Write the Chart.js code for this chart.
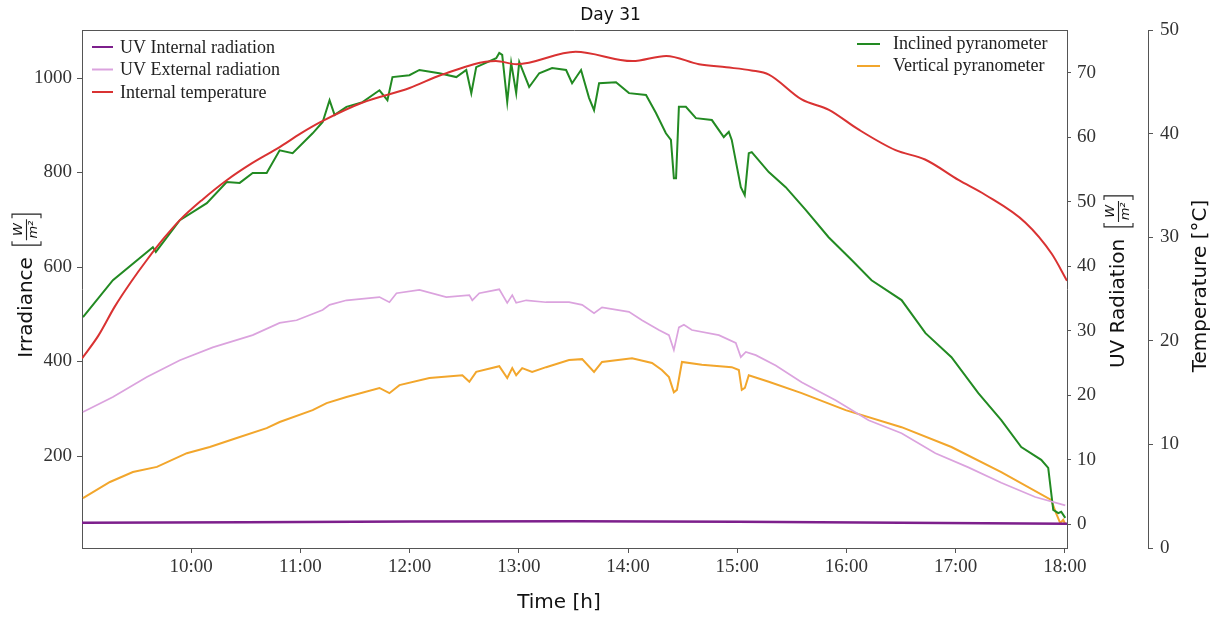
<!DOCTYPE html>
<html>
<head>
<meta charset="utf-8">
<title>Day 31</title>
<script src="https://cdn.jsdelivr.net/npm/chart.js@4.4.1/dist/chart.umd.min.js"></script>
<style>
  html, body { margin: 0; padding: 0; background: #fff; }
  #wrap { width: 1221px; height: 618px; }
</style>
</head>
<body>
<div id="wrap"><canvas id="chart" width="1221" height="618"></canvas></div>
<script>
// values, time in decimal hours
const timeTicks = [10, 11, 12, 13, 14, 15, 16, 17, 18];
const timeTickLabels = ['10:00', '11:00', '12:00', '13:00', '14:00', '15:00', '16:00', '17:00', '18:00'];
const irrTicks = [200, 400, 600, 800, 1000];
const uvTicks = [0, 10, 20, 30, 40, 50, 60, 70];
const tempTicks = [0, 10, 20, 30, 40, 50];

const seriesNames = ['UV Internal radiation', 'UV External radiation', 'Internal temperature',
  'Inclined pyranometer', 'Vertical pyranometer'];
const seriesColors = ['#7d1f8c', '#dba3de', '#d93232', '#228a22', '#f2a62c'];

const uvIntT = [9.0, 10.5, 12.0, 13.5, 15.0, 16.5, 18.02];
const uvIntV = [0.2, 0.3, 0.4, 0.45, 0.35, 0.2, 0.05];

const uvExtT = [9.009, 9.283, 9.594, 9.896, 10.197, 10.563, 10.81, 10.965, 11.203, 11.267, 11.422, 11.724,
  11.815, 11.88, 12.09, 12.336, 12.547, 12.574, 12.638, 12.821, 12.894, 12.94, 12.976, 13.068, 13.25, 13.46,
  13.58, 13.689, 13.762, 14.009, 14.128, 14.283, 14.375, 14.42, 14.466, 14.512, 14.585, 14.832, 14.987,
  15.033, 15.079, 15.17, 15.353, 15.59, 15.901, 16.203, 16.505, 16.815, 17.117, 17.418, 17.729, 18.004];
const uvExtV = [17.4, 19.7, 22.8, 25.4, 27.4, 29.3, 31.2, 31.6, 33.2, 34.0, 34.7, 35.2, 34.4, 35.8, 36.3,
  35.2, 35.5, 34.7, 35.8, 36.4, 34.3, 35.5, 34.3, 34.7, 34.4, 34.4, 34.0, 32.7, 33.6, 32.9, 31.6, 30.1, 29.3,
  27.0, 30.5, 30.9, 30.1, 29.3, 28.1, 25.9, 26.7, 26.2, 24.6, 22.0, 19.2, 16.1, 14.1, 11.0, 8.8, 6.4, 4.2, 2.9];

const tempT = [9.0, 9.15, 9.3, 9.45, 9.594, 9.75, 9.896, 10.1, 10.325, 10.55, 10.81, 11.0, 11.2, 11.57, 12.0,
  12.3, 12.79, 12.98, 13.52, 14.04, 14.35, 14.65, 14.9, 15.13, 15.29, 15.59, 15.84, 16.11, 16.45, 16.72,
  17.03, 17.27, 17.64, 17.88, 18.02];
const tempV = [18.3, 20.5, 23.3, 25.7, 27.8, 29.9, 31.65, 33.6, 35.5, 37.1, 38.7, 40.0, 41.2, 43.0, 44.4,
  45.7, 47.0, 46.7, 47.9, 47.0, 47.5, 46.7, 46.4, 46.1, 45.7, 43.3, 42.3, 40.4, 38.4, 37.5, 35.5, 34.1,
  31.4, 28.4, 25.8];

const inclinedT = [9.009, 9.283, 9.649, 9.676, 9.896, 10.143, 10.325, 10.444, 10.563, 10.691, 10.81, 10.929,
  11.112, 11.204, 11.267, 11.313, 11.422, 11.569, 11.724, 11.797, 11.843, 11.998, 12.09, 12.272, 12.428,
  12.519, 12.565, 12.61, 12.793, 12.821, 12.848, 12.894, 12.93, 12.976, 13.004, 13.095, 13.187, 13.305,
  13.433, 13.488, 13.57, 13.643, 13.689, 13.735, 13.89, 14.009, 14.165, 14.256, 14.347, 14.393, 14.42,
  14.44, 14.466, 14.53, 14.622, 14.768, 14.877, 14.923, 14.95, 15.033, 15.069, 15.106, 15.133, 15.289,
  15.444, 15.627, 15.837, 16.048, 16.23, 16.505, 16.724, 16.962, 17.208, 17.418, 17.601, 17.784, 17.848,
  17.894, 17.94, 17.967, 18.004];
const inclinedV = [494, 572, 642, 632, 699, 735, 780, 778, 799, 799, 847, 841, 883, 907, 953, 922, 939, 949,
  974, 953, 1002, 1006, 1017, 1010, 1002, 1017, 968, 1023, 1042, 1053, 1049, 949, 1032, 968, 1034, 981, 1010,
  1021, 1017, 989, 1017, 958, 932, 989, 991, 968, 964, 926, 883, 869, 788, 788, 939, 939, 915, 911, 875, 886,
  869, 769, 752, 841, 843, 801, 769, 721, 663, 615, 572, 530, 460, 409, 333, 276, 219, 192, 175, 86, 79, 82, 69];

const verticalT = [9.009, 9.256, 9.466, 9.686, 9.96, 10.17, 10.417, 10.691, 10.81, 11.112, 11.24, 11.422,
  11.724, 11.815, 11.907, 12.181, 12.483, 12.547, 12.61, 12.821, 12.894, 12.94, 12.976, 13.031, 13.122, 13.25,
  13.46, 13.58, 13.689, 13.762, 14.037, 14.22, 14.31, 14.375, 14.42, 14.448, 14.494, 14.676, 14.95, 15.015,
  15.042, 15.07, 15.106, 15.289, 15.59, 15.993, 16.505, 16.962, 17.418, 17.875, 17.92, 17.958, 17.985, 18.004];
const verticalV = [111, 145, 166, 177, 206, 219, 238, 259, 272, 297, 312, 325, 344, 333, 350, 365, 371, 357,
  378, 390, 365, 386, 371, 386, 378, 388, 403, 405, 378, 399, 407, 397, 382, 367, 335, 340, 399, 393, 388, 382,
  340, 344, 371, 357, 333, 297, 261, 219, 166, 107, 79, 58, 65, 56];

function pts(ts, vs) {
  return ts.map((t, i) => ({ x: t, y: vs[i] }));
}

const serif = '"Liberation Serif", "Times New Roman", serif';
const sans = '"DejaVu Sans", sans-serif';
const axisGrey = '#555';

function drawAxisTitle(ctx, cx, cy, label, withUnit) {
  ctx.save();
  ctx.translate(cx, cy);
  ctx.rotate(-Math.PI / 2);
  ctx.fillStyle = '#111';
  ctx.strokeStyle = '#222';
  ctx.font = '20px ' + sans;
  ctx.textBaseline = 'middle';
  ctx.textAlign = 'left';
  const w1 = ctx.measureText(label).width;
  const gap = withUnit ? 12 : 0;
  const fw = withUnit ? 31 : 0;
  const x = -(w1 + gap + fw) / 2;
  ctx.fillText(label, x, 1);
  if (withUnit) {
    const fx = x + w1 + gap;
    ctx.lineWidth = 1.1;
    ctx.beginPath();
    ctx.moveTo(fx + 4, -14); ctx.lineTo(fx, -14); ctx.lineTo(fx, 15); ctx.lineTo(fx + 4, 15);
    ctx.moveTo(fx + fw - 4, -14); ctx.lineTo(fx + fw, -14); ctx.lineTo(fx + fw, 15); ctx.lineTo(fx + fw - 4, 15);
    ctx.moveTo(fx + 5, 0.5); ctx.lineTo(fx + fw - 5, 0.5);
    ctx.stroke();
    ctx.font = 'italic 13px ' + sans;
    ctx.textAlign = 'center';
    ctx.fillText('W', fx + fw / 2, -7);
    ctx.fillText('m²', fx + fw / 2, 8);
  }
  ctx.restore();
}

const decorations = {
  id: 'decorations',
  afterDraw(chart) {
    const ctx = chart.ctx;
    const a = chart.chartArea;
    // top spine of the box
    ctx.save();
    ctx.strokeStyle = axisGrey;
    ctx.lineWidth = 1;
    ctx.beginPath();
    ctx.moveTo(a.left, a.top + 0.5);
    ctx.lineTo(a.right, a.top + 0.5);
    ctx.stroke();

    // legends
    ctx.font = '18px ' + serif;
    ctx.textBaseline = 'middle';
    ctx.textAlign = 'left';
    [0, 1, 2].forEach((k, i) => {
      const y = a.top + 17 + i * 22.5;
      ctx.strokeStyle = seriesColors[k];
      ctx.lineWidth = 2;
      ctx.beginPath();
      ctx.moveTo(a.left + 10, y);
      ctx.lineTo(a.left + 31, y);
      ctx.stroke();
      ctx.fillStyle = '#222';
      ctx.fillText(seriesNames[k], a.left + 38, y + 1);
    });
    [3, 4].forEach((k, i) => {
      const y = a.top + 14 + i * 22;
      ctx.strokeStyle = seriesColors[k];
      ctx.lineWidth = 2;
      ctx.beginPath();
      ctx.moveTo(a.right - 210, y);
      ctx.lineTo(a.right - 187, y);
      ctx.stroke();
      ctx.fillStyle = '#222';
      ctx.fillText(seriesNames[k], a.right - 174, y);
    });
    ctx.restore();

    const mid = (a.top + a.bottom) / 2 - 3;
    drawAxisTitle(ctx, chart.scales.y.left + 26, mid, 'Irradiance', true);
    drawAxisTitle(ctx, chart.scales.uv.left + 51, mid - 4, 'UV Radiation', true);
    drawAxisTitle(ctx, chart.scales.temp.left + 52, mid, 'Temperature [°C]', false);

    ctx.save();
    ctx.fillStyle = '#111';
    ctx.font = '20px ' + sans;
    ctx.textAlign = 'center';
    ctx.textBaseline = 'middle';
    ctx.fillText('Time [h]', a.left + 477, a.bottom + 55);
    ctx.restore();
  }
};

function fixedTicks(list) {
  return scale => { scale.ticks = list.map(v => ({ value: v })); };
}

const tickFont = { family: serif, size: 19 };

const chart = new Chart(document.getElementById('chart'), {
  type: 'line',
  data: {
    datasets: [
      { label: seriesNames[0], data: pts(uvIntT, uvIntV), yAxisID: 'uv', borderColor: seriesColors[0], borderWidth: 2.5 },
      { label: seriesNames[1], data: pts(uvExtT, uvExtV), yAxisID: 'uv', borderColor: seriesColors[1], borderWidth: 1.7 },
      { label: seriesNames[2], data: pts(tempT, tempV), yAxisID: 'temp', borderColor: seriesColors[2], borderWidth: 2, cubicInterpolationMode: 'monotone' },
      { label: seriesNames[3], data: pts(inclinedT, inclinedV), yAxisID: 'y', borderColor: seriesColors[3], borderWidth: 2 },
      { label: seriesNames[4], data: pts(verticalT, verticalV), yAxisID: 'y', borderColor: seriesColors[4], borderWidth: 2 }
    ]
  },
  options: {
    responsive: false,
    animation: false,
    devicePixelRatio: 1,
    layout: { padding: 0 },
    elements: { point: { radius: 0 }, line: { tension: 0, fill: false } },
    plugins: {
      legend: { display: false },
      tooltip: { enabled: false },
      title: {
        display: true,
        text: 'Day 31',
        color: '#111',
        font: { family: sans, size: 17, weight: 'normal' },
        padding: { top: 5, bottom: 4.6 }
      }
    },
    scales: {
      x: {
        type: 'linear',
        min: 9.0,
        max: 18.02,
        afterBuildTicks: fixedTicks(timeTicks),
        afterFit: s => { s.height = 70; },
        grid: { drawOnChartArea: false, tickLength: 5, color: axisGrey },
        border: { color: axisGrey },
        ticks: {
          font: tickFont, color: '#333', padding: 3, maxRotation: 0,
          callback: v => timeTickLabels[timeTicks.indexOf(v)]
        }
      },
      y: {
        position: 'left',
        min: 5.3,
        max: 1101.6,
        afterBuildTicks: fixedTicks(irrTicks),
        afterFit: s => { s.width = 82; },
        grid: { drawOnChartArea: false, tickLength: 5, color: axisGrey },
        border: { color: axisGrey },
        ticks: { font: tickFont, color: '#333', padding: 5, callback: v => String(v) }
      },
      uv: {
        position: 'right',
        weight: 0,
        min: -3.7,
        max: 76.6,
        afterBuildTicks: fixedTicks(uvTicks),
        afterFit: s => { s.width = 81; },
        grid: { drawOnChartArea: false, tickLength: 4, color: axisGrey },
        border: { color: axisGrey },
        ticks: { font: tickFont, color: '#333', padding: 6, callback: v => String(v) }
      },
      temp: {
        position: 'right',
        weight: 1,
        min: 0,
        max: 50,
        afterBuildTicks: fixedTicks(tempTicks),
        afterFit: s => { s.width = 73; },
        grid: { drawOnChartArea: false, tickLength: 5, color: axisGrey },
        border: { color: axisGrey },
        ticks: { font: tickFont, color: '#333', padding: 7, callback: v => String(v) }
      }
    }
  },
  plugins: [decorations]
});
</script>
</body>
</html>
